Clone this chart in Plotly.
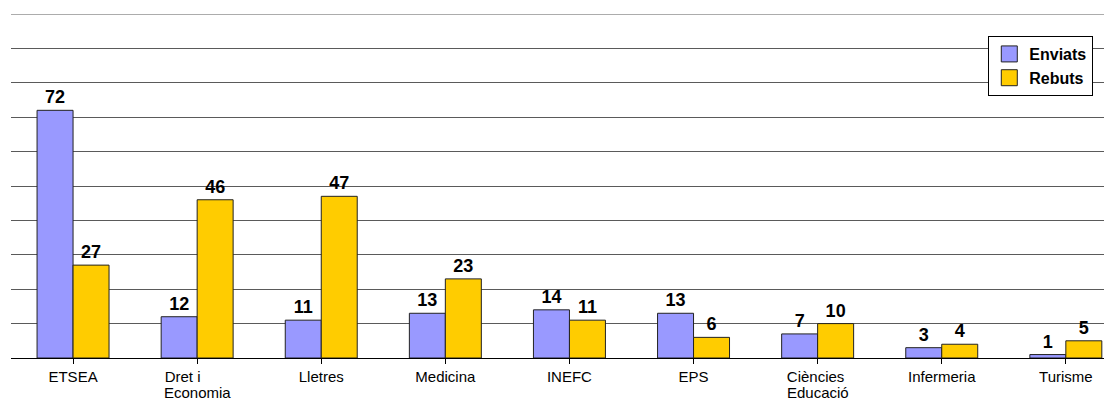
import plotly.graph_objects as go

categories = ["ETSEA", "Dret i Economia", "Lletres", "Medicina", "INEFC", "EPS",
              "Ciències Educació", "Infermeria", "Turisme"]
tick_line1 = ["ETSEA", "Dret i" + "&nbsp;" * 7, "Lletres", "Medicina", "INEFC", "EPS",
              "Ciències&nbsp;", "Infermeria", "Turisme"]
tick_line2 = ["", "Economia", "", "", "", "", "Educació", "", ""]
enviats = [72, 12, 11, 13, 14, 13, 7, 3, 1]
rebuts = [27, 46, 47, 23, 11, 6, 10, 4, 5]

series = [("Enviats", enviats, "#9999FF"), ("Rebuts", rebuts, "#FFCC00")]

x = list(range(len(categories)))
font_family = "Liberation Sans, Arial, sans-serif"

fig = go.Figure()
for name, vals, color in series:
    fig.add_trace(go.Bar(
        name=name, x=x, y=vals, text=vals, textposition="outside",
        marker=dict(color=color, line=dict(color="#222222", width=1)),
        textfont=dict(family=font_family, size=18, color="black", weight="bold"),
        cliponaxis=False, hovertext=categories, showlegend=False,
        legendgroup=name,
    ))
# legend entries with larger square swatches
for name, vals, color in series:
    fig.add_trace(go.Scatter(
        name=name, x=[None], y=[None], mode="markers",
        marker=dict(symbol="square", size=16, color=color,
                    line=dict(color="#222222", width=1)),
        showlegend=True, legendgroup=name,
    ))

for xi, t in zip(x, tick_line2):
    if t:
        fig.add_annotation(
            x=xi, y=0, xref="x", yref="paper", text=t, showarrow=False,
            xanchor="center", yanchor="top", yshift=-24,
            font=dict(family=font_family, size=15, color="black"),
        )

# The page body has an 8px default margin; size the figure so it fills the window.
fig.update_layout(
    width=1104, height=392,
    margin=dict(l=3, r=0, t=6, b=42),
    paper_bgcolor="white", plot_bgcolor="white",
    barmode="group", bargap=0.42, bargroupgap=0,
    font=dict(family=font_family, color="black"),
    showlegend=True,
    legend=dict(
        x=0.983, y=0.936, xanchor="right", yanchor="top",
        bordercolor="black", borderwidth=1, bgcolor="white",
        font=dict(family=font_family, size=16, color="black", weight="bold"),
        itemwidth=30, tracegroupgap=0,
    ),
    xaxis=dict(
        tickmode="array", tickvals=x, ticktext=tick_line1,
        range=[-0.5, 8.372], showgrid=False, automargin=False,
        showline=True, linecolor="black", linewidth=1,
        ticks="outside", tickson="boundaries", ticklen=5, tickcolor="black",
        tickfont=dict(family=font_family, size=15, color="black"),
        zeroline=False, fixedrange=True,
    ),
    yaxis=dict(
        range=[0, 100], dtick=10, showgrid=True, gridcolor="#5a5a5a", gridwidth=1,
        showticklabels=False, zeroline=False, showline=False, ticks="",
        automargin=False,
    ),
    shapes=[dict(type="line", xref="paper", yref="y", x0=0, x1=1, y0=100, y1=100,
                 line=dict(color="#5a5a5a", width=1))],
)

fig.write_html("out.html")
